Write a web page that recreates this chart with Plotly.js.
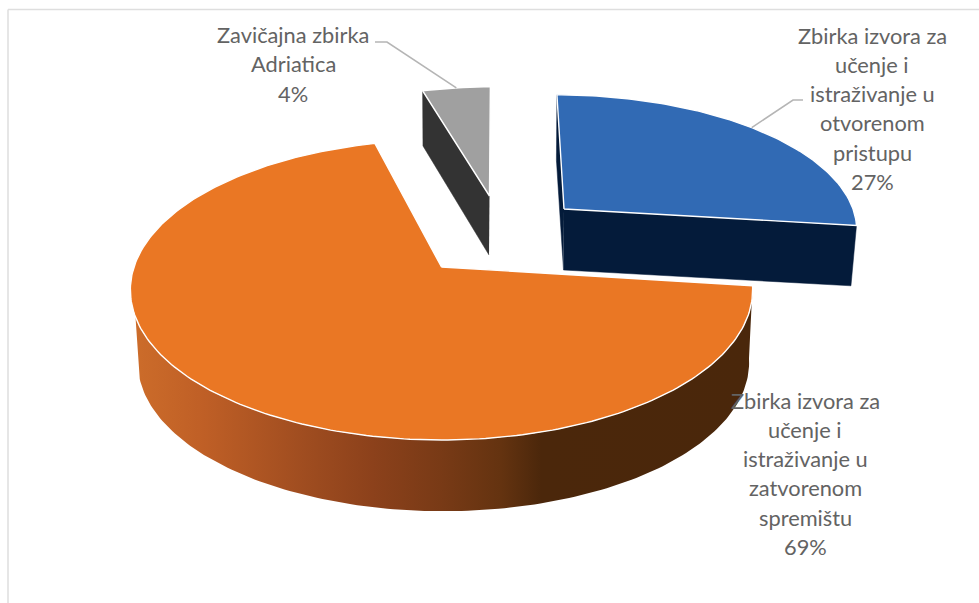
<!DOCTYPE html>
<html>
<head>
<meta charset="utf-8">
<script src="https://cdn.plot.ly/plotly-3.0.1.min.js"></script>
<style>html,body{margin:0;padding:0;background:#fff}#chart{width:979px;height:603px}</style>
</head>
<body>
<div id="chart"></div>
<script>
// ---- data ----
const categories = [
  "Zbirka izvora za učenje i istraživanje u otvorenom pristupu",
  "Zbirka izvora za učenje i istraživanje u zatvorenom spremištu",
  "Zavičajna zbirka Adriatica"
];
const percents = [27, 69, 4];
const labelLines = [
  ["Zbirka izvora za", "učenje i", "istraživanje u", "otvorenom", "pristupu"],
  ["Zbirka izvora za", "učenje i", "istraživanje u", "zatvorenom", "spremištu"],
  ["Zavičajna zbirka", "Adriatica"]
];

// ---- styling and projection of the tilted, exploded pie ----
const firstAngle = 90;               // first slice starts at 12 o'clock, going clockwise
const faceColors = ["#316AB4", "#EA7724", "#A0A0A0"];
const wallColors = ["#041B3A", null, "#333333"];
const orangeWall = [[0,"#CC6C2A"],[0.11,"#BF5F26"],[0.27,"#A04D20"],[0.384,"#8C411B"],[0.497,"#783A16"],[0.593,"#643310"],[0.658,"#4B270B"],[1,"#4A270B"]];
const textColor = "#636363";
const leaderColor = "#B5B5B5";
const fontFamily = "Lato, 'Open Sans', sans-serif";
const fontSize = 21.8;
const lineStep = 29.3;
const labelPos = [{x:872, y:35}, {x:805, y:400}, {x:293, y:34.5}];

// Each slice has a top and a bottom plane: apex (ax,ay), scale A/B, perspective k, shear s, tilt t
const planes = [
  {top:{ax:564,ay:209,A:289,B:129,k:0.13,s:-8,t:0},  bot:{ax:563.5,ay:270,A:284,B:124,k:0.13,s:-8,t:0}},
  {top:{ax:441.5,ay:267,A:307.5,B:146.5,k:0.153,s:0,t:0}, bot:{ax:443.5,ay:340,A:302,B:145,k:0.153,s:0,t:0}},
  {top:{ax:489.5,ay:196,A:312,B:126,k:0.15,s:1,t:6}, bot:{ax:489,ay:255,A:308,B:129,k:0.15,s:1,t:0}}
];

function project(p, deg) {
  const r = deg * Math.PI / 180, X = Math.cos(r), Y = Math.sin(r), w = 1 + p.k * Y;
  return [p.ax + (p.A * X + p.s * Y) / w, p.ay - (p.B * Y + p.t * X) / w];
}
function arc(p, from, to) {
  const n = Math.max(2, Math.ceil(Math.abs(to - from))), pts = [];
  for (let i = 0; i <= n; i++) pts.push(project(p, from + (to - from) * i / n));
  return pts;
}
function poly(pts, extra) {
  return Object.assign({
    x: pts.map(d => d[0]), y: pts.map(d => d[1]),
    type: "scatter", mode: "lines", fill: "toself",
    hoverinfo: "skip", showlegend: false
  }, extra);
}

// slice angles from the values
const total = percents.reduce((a, b) => a + b, 0);
let cursor = firstAngle;
const spans = percents.map(v => { const s = cursor, e = cursor - v / total * 360; cursor = e; return [s, e]; });

const [blue, orange, gray] = spans;
const apex = p => [p.ax, p.ay];
const traces = [];

// blue: left cut sliver, front cut face, top
const bp = planes[0];
traces.push(poly([apex(bp.top), project(bp.top, blue[0]), project(bp.bot, blue[0]), apex(bp.bot)],
  {name:"blue cut 1", fillcolor: wallColors[0], line:{color:wallColors[0], width:0.5}}));
traces.push(poly([apex(bp.top), project(bp.top, blue[1]), project(bp.bot, blue[1]), apex(bp.bot)],
  {name:"blue cut 2", fillcolor: wallColors[0], line:{color:wallColors[0], width:0.5}}));
traces.push(poly([apex(bp.top), ...arc(bp.top, blue[0], blue[1]), apex(bp.top)],
  {name: categories[0], fillcolor: faceColors[0], line:{color:"#FFFFFF", width:1.4}}));

// gray: left cut face, top
const gp = planes[2];
traces.push(poly([apex(gp.top), project(gp.top, gray[0]), project(gp.bot, gray[0]), apex(gp.bot)],
  {name:"gray cut", fillcolor: wallColors[2], line:{color:wallColors[2], width:0.5}}));
traces.push(poly([apex(gp.top), ...arc(gp.top, gray[0], gray[1]), apex(gp.top)],
  {name: categories[2], fillcolor: faceColors[2], line:{color:"#FFFFFF", width:1.4}}));

// orange: curved gradient wall, top
const op = planes[1];
const wallTop = arc(op.top, orange[0], -161);
const wallBot = arc(op.bot, orange[0], -167).reverse();
traces.push(poly([...wallTop, ...wallBot], {
  name:"orange wall",
  fillgradient:{type:"horizontal", colorscale: orangeWall},
  line:{width:0, color:"rgba(0,0,0,0)"}
}));
traces.push(poly([apex(op.top), ...arc(op.top, orange[0], orange[1]), apex(op.top)],
  {name: categories[1], fillcolor: faceColors[1], line:{color:"#FFFFFF", width:1.4}}));

// labels
const annotations = [];
labelLines.forEach((lines, i) => {
  lines.concat([percents[i] + "%"]).forEach((t, j) => {
    annotations.push({
      x: labelPos[i].x, y: labelPos[i].y + j * lineStep, xref:"x", yref:"y",
      text: t, showarrow:false, xanchor:"center", yanchor:"middle",
      font:{family:fontFamily, size:fontSize, color:textColor}
    });
  });
});

// leader lines start from the outer mid-point of their slices
const blueMid = project(bp.top, (blue[0] + blue[1]) / 2 + 2);
const grayMid = project(gp.top, (gray[0] + gray[1]) / 2);
const leaderStyle = {color: leaderColor, width: 1.6};
const shapes = [
  {type:"path", xref:"x", yref:"y", layer:"above", line:leaderStyle,
   path:`M${blueMid[0]},${blueMid[1]} L793,100 L803,100`},
  {type:"path", xref:"x", yref:"y", layer:"above", line:leaderStyle,
   path:`M${grayMid[0]},${grayMid[1]} L387,42 L375,42`},
  {type:"line", xref:"x", yref:"y", x0:8, x1:8, y0:9.5, y1:603, line:{color:"#DEDEDE", width:1.5}},
  {type:"line", xref:"x", yref:"y", x0:8, x1:979, y0:9.5, y1:9.5, line:{color:"#DEDEDE", width:1.5}}
];

Plotly.newPlot("chart", traces, {
  width: 979, height: 603,
  margin:{l:0, r:0, t:0, b:0},
  paper_bgcolor:"#FFFFFF", plot_bgcolor:"#FFFFFF",
  xaxis:{range:[0,979], visible:false, fixedrange:true},
  yaxis:{range:[603,0], visible:false, fixedrange:true},
  showlegend:false, annotations, shapes
}, {displayModeBar:false, staticPlot:true});
</script>
</body>
</html>
